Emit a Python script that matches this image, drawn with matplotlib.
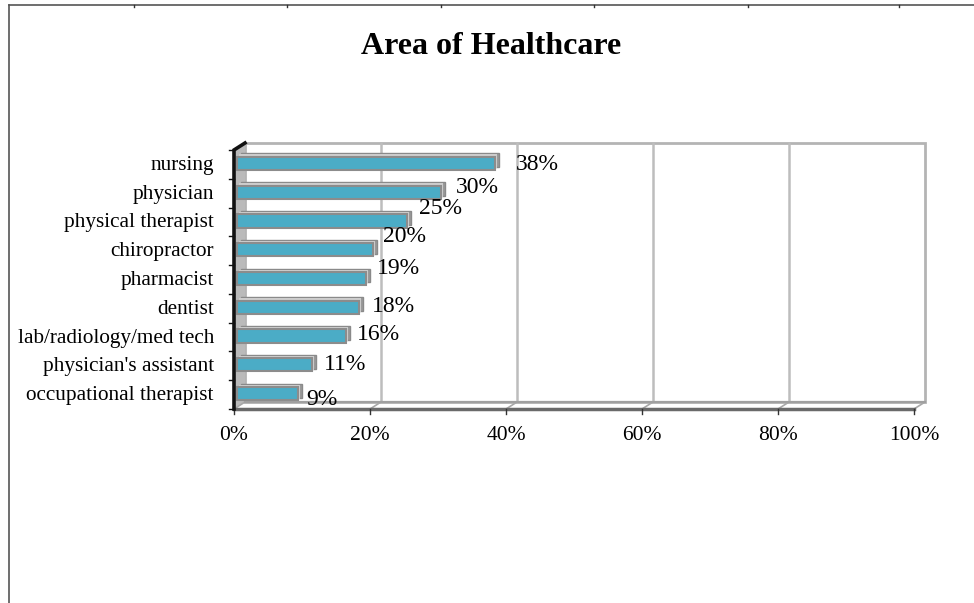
import matplotlib
matplotlib.use("Agg")
import matplotlib.pyplot as plt
from matplotlib.transforms import ScaledTranslation, blended_transform_factory
from matplotlib.patches import Polygon, Rectangle
from matplotlib.lines import Line2D

# ---- data ----
title = "Area of Healthcare"
categories = ["nursing", "physician", "physical therapist", "chiropractor",
              "pharmacist", "dentist", "lab/radiology/med tech",
              "physician's assistant", "occupational therapist"]
values = [38, 30, 25, 20, 19, 18, 16, 11, 9]
xticks = [0, 20, 40, 60, 80, 100]
xtick_labels = ["0%", "20%", "40%", "60%", "80%", "100%"]

# ---- style ----
label_dx_px = [23, 18, 15, 13, 14, 16, 14, 15, 11]   # label horizontal nudges (px)
label_dy_px = [0, 6, 13, 14, 11, 2, 3, 1, -5]        # label vertical nudges (px)
FONT = ["Liberation Serif", "DejaVu Serif"]
plt.rcParams['font.family'] = FONT
W, H, DPI = 974, 603, 100
fig = plt.figure(figsize=(W / DPI, H / DPI), dpi=DPI)
fig.patch.set_facecolor("white")

ax_left, ax_right, ax_top, ax_bot = 234, 914, 150, 409
ax = fig.add_axes([ax_left / W, (H - ax_bot) / H, (ax_right - ax_left) / W, (ax_bot - ax_top) / H])
ax.set_xlim(0, 100)
n = len(categories)
ax.set_ylim(n - 0.5, -0.5)
ax.axis("off")

def px(dx, dy):
    return ScaledTranslation(dx / DPI, dy / DPI, fig.dpi_scale_trans)

DX, DY = 11, 7
back = ax.transAxes + px(DX, DY)
front = ax.transAxes

# back wall
ax.add_patch(Rectangle((0, 0), 1, 1, transform=back, facecolor="white",
                       edgecolor="#b4b4b4", lw=2, zorder=0, clip_on=False))
# left wall (shaded)
x0, y0 = front.transform((0, 0))
x1, y1 = front.transform((0, 1))
ax.add_patch(Polygon([[x0, y0], [x1, y1], [x1 + DX, y1 + DY], [x0 + DX, y0 + DY]],
                     closed=True, transform=None, facecolor="#bababa",
                     edgecolor="none", zorder=0.3, clip_on=False))
# back gridlines
grid_tr = blended_transform_factory(ax.transData, ax.transAxes) + px(DX, DY)
for xt in xticks[1:-1]:
    ax.add_line(Line2D([xt, xt], [0, 1], transform=grid_tr, color="#bdbdbd",
                       lw=1.8, zorder=0.5, clip_on=False))
# floor diagonals
bl = blended_transform_factory(ax.transData, ax.transAxes)
for xt in xticks:
    fx, fy = bl.transform((xt, 0))
    ax.add_line(Line2D([fx, fx + DX], [fy, fy + DY], transform=None, color="#a8a8a8",
                       lw=1.2, zorder=0.6, clip_on=False))
# back floor line
ax.add_line(Line2D([0, 1], [0, 0], transform=back, color="#a0a0a0", lw=1.6,
                   zorder=0.7, clip_on=False))
# front floor line
ax.add_line(Line2D([0, 1], [0, 0], transform=front, color="#6a6a6a", lw=2.5,
                   zorder=3, clip_on=False))
# x ticks
for xt in xticks:
    fx, fy = bl.transform((xt, 0))
    ax.add_line(Line2D([fx, fx], [fy, fy - 5], transform=None, color="#333333",
                       lw=1, zorder=3, clip_on=False))
# left axis with slanted top
ax.add_line(Line2D([x0, x1, x1 + DX], [y0, y1, y1 + DY], transform=None,
                   color="#111111", lw=2.6, zorder=4, clip_on=False,
                   solid_joinstyle="miter"))
# category ticks
for k in range(n + 1):
    xx, yy = ax.transData.transform((0, k - 0.5))
    ax.add_line(Line2D([xx - 5, xx], [yy, yy], transform=None, color="#111111",
                       lw=1, zorder=4, clip_on=False))

# bars: depth (gray) + front face (blue)
ypos = list(range(n))
ax.barh(ypos, values, height=0.48, color="#9a9a9a", edgecolor="#8a8a8a", lw=1,
        transform=ax.transData + px(7, 4), zorder=1.5)
ax.barh(ypos, values, height=0.48, color="#cdcdcd", edgecolor="none",
        transform=ax.transData + px(5, 3), zorder=1.6)
ax.barh(ypos, values, height=0.46, color="#4BACC6", edgecolor="#8c8c8c", lw=1.5,
        transform=ax.transData + px(3, 1), zorder=2)

# data labels
for i, v in enumerate(values):
    ax.text(v, i, f"{v}%", transform=ax.transData + px(label_dx_px[i], label_dy_px[i]),
            ha="left", va="center", fontsize=17, color="black", zorder=5)

# category labels
for i, c in enumerate(categories):
    ax.text(0, i, c, transform=ax.transData + px(-20, -1), ha="right",
            va="center", fontsize=15.3, color="black")

# x tick labels
for xt, lab in zip(xticks, xtick_labels):
    ax.text(xt, 0, lab, transform=bl + px(0, -27), ha="center", va="center",
            fontsize=15.5, color="black")

# title
fig.text(491 / W, 1 - 47 / H, title, ha="center", va="center", fontsize=23,
         fontweight="bold")

# page frame lines
fig.add_artist(Line2D([9 / W, 1], [1 - 5 / H, 1 - 5 / H], transform=fig.transFigure,
                      color="#555555", lw=1.2))
fig.add_artist(Line2D([9 / W, 9 / W], [0, 1 - 5 / H], transform=fig.transFigure,
                      color="#555555", lw=1.2))
for tx in [134, 287, 441, 594, 748, 899]:
    fig.add_artist(Line2D([tx / W, tx / W], [1 - 5 / H, 1 - 7 / H],
                          transform=fig.transFigure, color="#333333", lw=1))

fig.savefig("out.png", dpi=DPI, facecolor="white")
